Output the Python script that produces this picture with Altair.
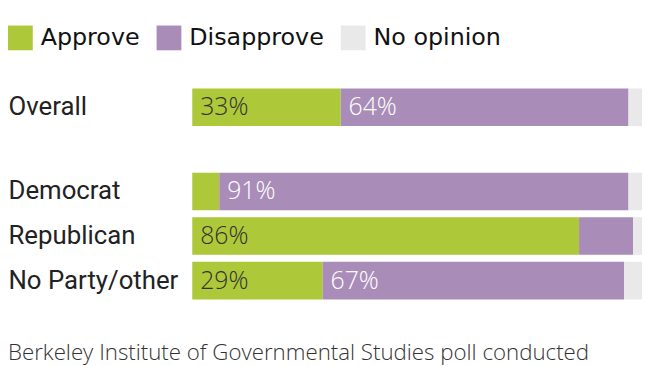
import altair as alt
import pandas as pd

groups = ["Overall", "Democrat", "Republican", "No Party/other"]
responses = ["Approve", "Disapprove", "No opinion"]
approve = [33, 6, 86, 29]
disapprove = [64, 91, 12, 67]
no_opinion = [3, 3, 2, 4]
approve_labels = ["33%", "", "86%", "29%"]
disapprove_labels = ["64%", "91%", "", "67%"]
colors = ["#adc839", "#a98db8", "#e9e9e9"]
label_colors = ["#333333", "#ffffff", "#333333"]

rows = []
for i, g in enumerate(groups):
    vals = [approve[i], disapprove[i], no_opinion[i]]
    labs = [approve_labels[i], disapprove_labels[i], ""]
    for j, r in enumerate(responses):
        rows.append({"group": g, "response": r, "value": vals[j], "order": j,
                     "label": labs[j], "tcolor": label_colors[j]})
df = pd.DataFrame(rows)

LABEL_FONT = "Roboto"
LEGEND_FONT = "DejaVu Sans"
NUM_FONT = "Open Sans"


def panel(names, height):
    sub = df[df["group"].isin(names)]
    base = alt.Chart(sub).transform_stack(
        stack="value", groupby=["group"], as_=["x0", "x1"],
        sort=[alt.SortField("order", order="ascending")]
    )
    y = alt.Y("group:N", sort=names,
              scale=alt.Scale(paddingInner=0, paddingOuter=0),
              axis=alt.Axis(title=None, labelAlign="left", labelPadding=186,
                            ticks=False, domain=False, labelFontSize=26,
                            labelFont=LABEL_FONT, labelColor="#222222",
                            labelLimit=300))
    bars = base.mark_bar(size=38).encode(
        y=y,
        x=alt.X("x0:Q", scale=alt.Scale(domain=[0, 100]), axis=None),
        x2="x1:Q",
        color=alt.Color("response:N",
                        scale=alt.Scale(domain=responses, range=colors),
                        legend=alt.Legend(title=None, orient="none",
                                          direction="horizontal",
                                          legendX=-186, legendY=-60,
                                          symbolType="square", symbolSize=625,
                                          symbolStrokeWidth=0,
                                          labelFontSize=24, labelFont=LEGEND_FONT,
                                          labelColor="#111111", labelOffset=8,
                                          columnPadding=17)),
    )
    text = base.mark_text(align="left", baseline="middle", dx=8, fontSize=25,
                          font=NUM_FONT, fontWeight=300).encode(
        y=alt.Y("group:N", sort=names),
        x=alt.X("x0:Q"),
        text="label:N",
        color=alt.Color("tcolor:N", scale=None),
    )
    return alt.layer(bars, text).properties(width=454, height=height)


top = panel(["Overall"], 45)
bottom = panel(["Democrat", "Republican", "No Party/other"], 135)

chart = alt.vconcat(top, bottom, spacing=40).properties(
    padding={"left": 0, "top": 16, "right": 0, "bottom": 0},
    title=alt.TitleParams("Berkeley Institute of Governmental Studies poll conducted",
                          orient="bottom", anchor="start", offset=40,
                          fontSize=22.5, font=NUM_FONT, fontWeight=300,
                          color="#333333"),
).configure_view(stroke=None)

chart.save("out.html", embed_options={"renderer": "svg", "actions": False})
